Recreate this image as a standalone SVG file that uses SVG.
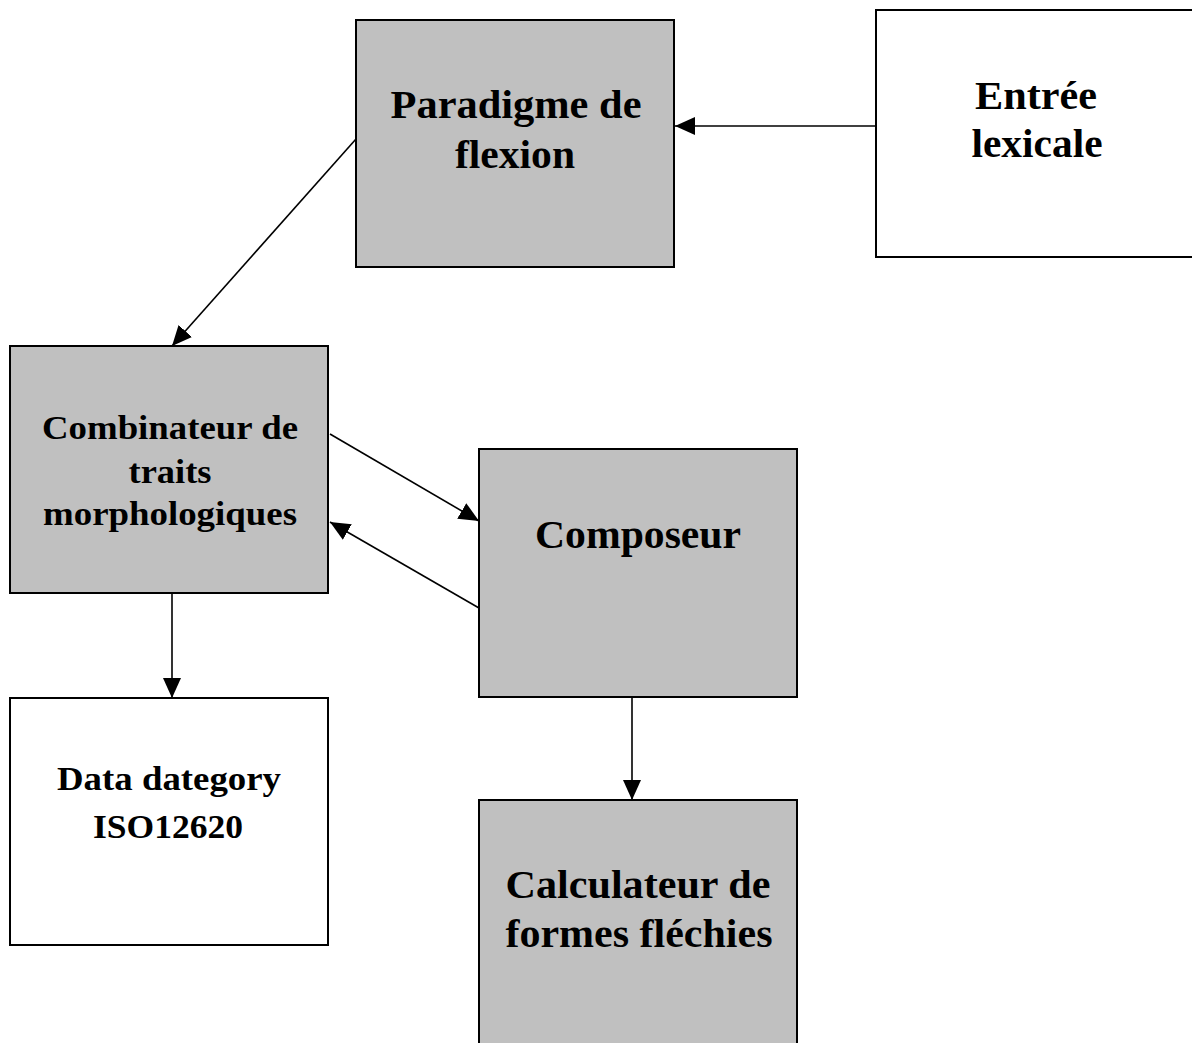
<svg xmlns="http://www.w3.org/2000/svg" width="1192" height="1043" viewBox="0 0 1192 1043">
  <style>
    .box { stroke: #000; stroke-width: 2; }
    .grey { fill: #c0c0c0; }
    .white { fill: #fff; }
    .lbl { font-family: "Liberation Serif", "Times New Roman", serif; font-weight: bold; fill: #000; text-anchor: middle; }
    .edge { stroke: #000; stroke-width: 1.6; fill: none; marker-end: url(#arrow); }
  </style>
  <defs>
    <marker id="arrow" viewBox="0 0 20 18" refX="20" refY="9" markerWidth="20" markerHeight="18" markerUnits="userSpaceOnUse" orient="auto">
      <path d="M0,0 L20,9 L0,18 Z" fill="#000"/>
    </marker>
  </defs>
  <rect width="1192" height="1043" fill="#fff"/>

  <g id="connectors">
    <line class="edge" x1="876" y1="126" x2="675" y2="126"/>
    <line class="edge" x1="356" y1="139" x2="172" y2="346"/>
    <line class="edge" x1="330" y1="434" x2="479" y2="521"/>
    <line class="edge" x1="479" y1="608" x2="330" y2="522"/>
    <line class="edge" x1="172" y1="594" x2="172" y2="698"/>
    <line class="edge" x1="632" y1="697" x2="632" y2="800"/>
  </g>

  <g id="paradigme">
    <rect class="box grey" x="356" y="20" width="318" height="247"/>
    <text class="lbl" font-size="39" x="516" y="118" textLength="251" lengthAdjust="spacingAndGlyphs">Paradigme de</text>
    <text class="lbl" font-size="39" x="515" y="168" textLength="120" lengthAdjust="spacingAndGlyphs">flexion</text>
  </g>

  <g id="entree">
    <rect class="box white" x="876" y="10" width="330" height="247"/>
    <text class="lbl" font-size="39" x="1036" y="109" textLength="122" lengthAdjust="spacingAndGlyphs">Entrée</text>
    <text class="lbl" font-size="39" x="1037" y="157" textLength="131" lengthAdjust="spacingAndGlyphs">lexicale</text>
  </g>

  <g id="combinateur">
    <rect class="box grey" x="10" y="346" width="318" height="247"/>
    <text class="lbl" font-size="33" x="170" y="439" textLength="256" lengthAdjust="spacingAndGlyphs">Combinateur de</text>
    <text class="lbl" font-size="33" x="170" y="483" textLength="83" lengthAdjust="spacingAndGlyphs">traits</text>
    <text class="lbl" font-size="33" x="170" y="525" textLength="254" lengthAdjust="spacingAndGlyphs">morphologiques</text>
  </g>

  <g id="composeur">
    <rect class="box grey" x="479" y="449" width="318" height="248"/>
    <text class="lbl" font-size="41" x="638" y="548" textLength="206" lengthAdjust="spacingAndGlyphs">Composeur</text>
  </g>

  <g id="datacategory">
    <rect class="box white" x="10" y="698" width="318" height="247"/>
    <text class="lbl" font-size="34" x="169" y="790" textLength="224" lengthAdjust="spacingAndGlyphs">Data dategory</text>
    <text class="lbl" font-size="34" x="168" y="838" textLength="150" lengthAdjust="spacingAndGlyphs">ISO12620</text>
  </g>

  <g id="calculateur">
    <rect class="box grey" x="479" y="800" width="318" height="260"/>
    <text class="lbl" font-size="39" x="638" y="898" textLength="265" lengthAdjust="spacingAndGlyphs">Calculateur de</text>
    <text class="lbl" font-size="39" x="639" y="947" textLength="267" lengthAdjust="spacingAndGlyphs">formes fléchies</text>
  </g>
</svg>
